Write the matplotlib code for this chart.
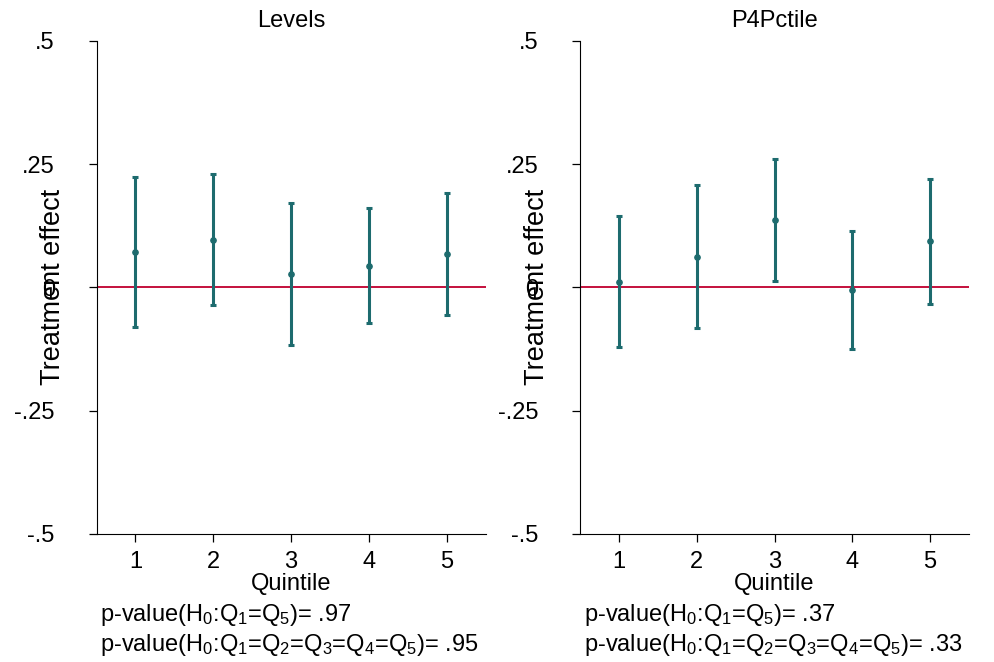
import matplotlib

matplotlib.use('Agg')
import numpy as np
import matplotlib.pyplot as plt

plt.rcParams['font.family'] = ['Liberation Sans', 'DejaVu Sans']
plt.rcParams['mathtext.fontset'] = 'custom'
plt.rcParams['mathtext.rm'] = 'Liberation Sans'
plt.rcParams['mathtext.it'] = 'Liberation Sans'
plt.rcParams['mathtext.default'] = 'regular'

quintiles = [1, 2, 3, 4, 5]

# Levels panel
levels_est = [0.071, 0.096, 0.028, 0.043, 0.068]
levels_lo = [-0.081, -0.036, -0.116, -0.073, -0.057]
levels_hi = [0.224, 0.229, 0.172, 0.161, 0.192]

# P4Pctile panel
pctile_est = [0.011, 0.062, 0.136, -0.006, 0.093]
pctile_lo = [-0.121, -0.083, 0.012, -0.125, -0.033]
pctile_hi = [0.144, 0.208, 0.260, 0.114, 0.220]

titles = ["Levels", "P4Pctile"]
pval_q1q5 = [".97", ".37"]
pval_all = [".95", ".33"]
yticks = [-0.5, -0.25, 0, 0.25, 0.5]
ytick_labels = ["-.5", "-.25", "0", ".25", ".5"]

teal = '#1d6b6e'
red = '#c4103c'
fs = 17

W, H = 994, 662
fig = plt.figure(figsize=(W / 100, H / 100), dpi=100)

panels = [(levels_est, levels_lo, levels_hi, 96.5), (pctile_est, pctile_lo, pctile_hi, 580)]
for i, (est, lo, hi, left_px) in enumerate(panels):
    ax = fig.add_axes([left_px / W, 1 - 534 / H, 389 / W, (534 - 40.7) / H])
    est = np.array(est)
    yerr = [est - np.array(lo), np.array(hi) - est]
    ax.axhline(0, color=red, lw=1.4, zorder=1)
    ax.errorbar(quintiles, est, yerr=yerr, fmt='o', color=teal, ms=3.8,
                elinewidth=2.2, capsize=2.2, capthick=2.2, zorder=3)
    ax.set_xlim(0.5, 5.5)
    ax.set_ylim(-0.5, 0.5)
    ax.set_yticks(yticks)
    ax.set_yticklabels(ytick_labels)
    ax.set_xticks(quintiles)
    ax.spines['top'].set_visible(False)
    ax.spines['right'].set_visible(False)
    ax.tick_params(axis='y', length=6, pad=24, labelsize=fs, width=0.9)
    ax.tick_params(axis='x', length=6, pad=6, labelsize=fs, width=0.9)
    ax.set_title(titles[i], fontsize=fs, pad=10)
    ax.set_ylabel("Treatment effect", fontsize=19.5)
    ax.yaxis.set_label_coords(-43.5 / 389, 0.5)
    ax.yaxis.label.set_va('center')
    ax.set_xlabel("Quintile", fontsize=fs)
    ax.xaxis.set_label_coords(0.5, -(584 - 534) / 493.3)
    ax.xaxis.label.set_va('center')
    ax.text(4 / 389, -(615 - 534) / 493.3,
            r"p-value(H$_0$:Q$_1$=Q$_5$)= " + pval_q1q5[i],
            transform=ax.transAxes, fontsize=fs, va='center', ha='left')
    ax.text(4 / 389, -(645 - 534) / 493.3,
            r"p-value(H$_0$:Q$_1$=Q$_2$=Q$_3$=Q$_4$=Q$_5$)= " + pval_all[i],
            transform=ax.transAxes, fontsize=fs, va='center', ha='left')

plt.savefig("out.png", dpi=100)
